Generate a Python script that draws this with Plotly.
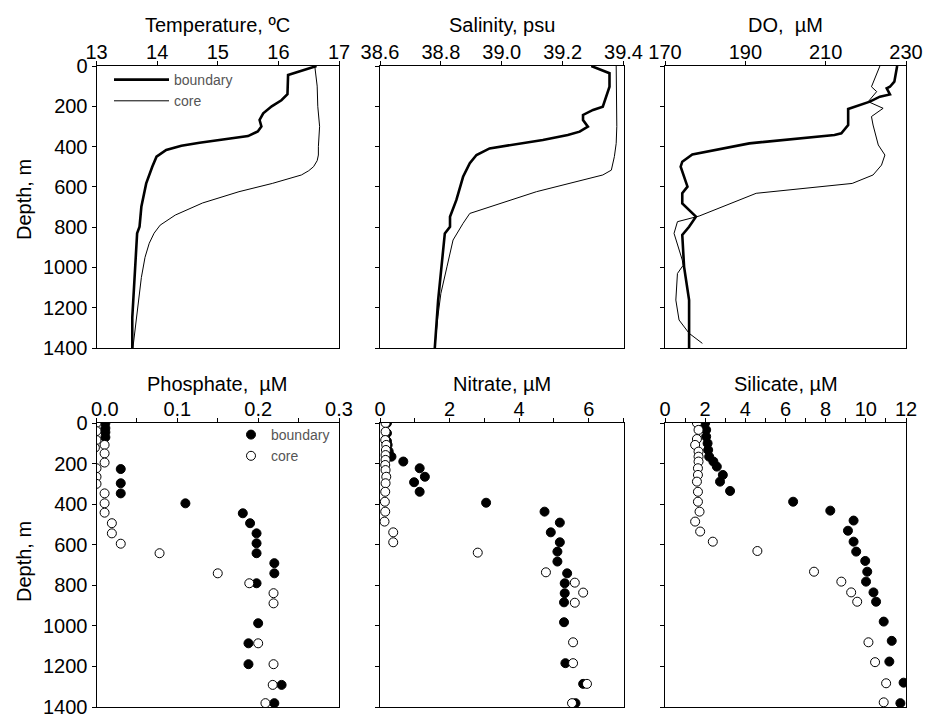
import plotly.graph_objects as go

# ---------------- CTD profiles (top row) ----------------
temp_b_depth = [0, 45, 140, 170, 200, 235, 268, 300, 325, 348, 381, 396, 417, 450, 500,
                583, 699, 798, 831, 997, 1162, 1250, 1400]
temp_b = [16.63, 16.16, 16.15, 16.05, 15.89, 15.75, 15.69, 15.72, 15.66, 15.5, 14.70, 14.40,
          14.15, 13.99, 13.92, 13.82, 13.74, 13.71, 13.67, 13.64, 13.61, 13.59, 13.59]
temp_c_depth = [0, 100, 200, 300, 400, 442, 470, 500, 520, 541, 583, 624, 680, 740, 790,
                830, 880, 950, 1050, 1150, 1250, 1330, 1400]
temp_c = [16.6, 16.64, 16.65, 16.68, 16.66, 16.66, 16.64, 16.58, 16.5, 16.38, 15.9, 15.35,
          14.75, 14.3, 14.05, 13.95, 13.87, 13.80, 13.74, 13.70, 13.66, 13.63, 13.6]

sal_b_depth = [0, 36, 103, 169, 202, 218, 243, 268, 301, 326, 343, 367, 396, 409, 442, 483,
               550, 665, 748, 798, 831, 997, 1162, 1400]
sal_b = [39.294, 39.354, 39.354, 39.338, 39.332, 39.30, 39.267, 39.267, 39.283, 39.256,
         39.217, 39.135, 39.004, 38.96, 38.917, 38.895, 38.873, 38.851, 38.83, 38.83,
         38.813, 38.802, 38.791, 38.78]
sal_c_depth = [0, 100, 200, 300, 384, 450, 517, 541, 624, 732, 781, 864, 997, 1129, 1245, 1400]
sal_c = [39.376, 39.377, 39.378, 39.378, 39.376, 39.37, 39.36, 39.332, 39.114, 38.895,
         38.873, 38.84, 38.82, 38.80, 38.79, 38.78]

do_b_depth = [0, 78, 103, 111, 141, 152, 177, 194, 213, 293, 334, 343, 384, 439, 475, 500,
              599, 632, 682, 748, 798, 839, 997, 1162, 1400]
do_b = [227.8, 227.1, 226.0, 225.2, 226.0, 223.5, 221.0, 218.5, 215.6, 215.6, 213.9, 212.2,
        191.0, 176.8, 174.3, 173.9, 175.6, 174.3, 174.3, 177.7, 176.0, 174.3, 174.75, 176.0, 176.0]
do_c_depth = [0, 103, 127, 177, 210, 251, 293, 392, 442, 492, 541, 583, 632, 745, 773, 831,
              963, 990, 1030, 1162, 1261, 1327, 1377]
do_c = [223.5, 221.4, 222.7, 220.6, 224.3, 221.4, 221.8, 223.1, 224.75, 223.9, 221.8, 216.6,
        192.7, 178.5, 173.1, 172.25, 174.3, 174.5, 173.1, 172.7, 173.5, 176.0, 179.3]

# ---------------- Nutrient samples (bottom row) ----------------
po4_b_depth = [0, 25, 45, 70, 227, 297, 347, 396, 445, 494, 544, 593, 642, 691, 741, 790,
               987, 1086, 1189, 1291, 1381]
po4_b = [0.011, 0.011, 0.011, 0.011, 0.030, 0.030, 0.030, 0.110, 0.181, 0.190, 0.198, 0.198,
         0.198, 0.220, 0.220, 0.198, 0.200, 0.188, 0.188, 0.229, 0.220]
po4_c_depth = [0, 40, 84, 108, 122, 150, 195, 223, 265, 300, 347, 396, 442, 494, 544, 595,
               642, 741, 790, 839, 889, 1086, 1189, 1291, 1381]
po4_c = [0.0, 0.0, 0.0, 0.010, -0.002, 0.010, 0.010, 0.0, 0.0, 0.0, 0.010, 0.010, 0.010,
         0.019, 0.019, 0.030, 0.078, 0.150, 0.189, 0.219, 0.219, 0.200, 0.219, 0.218, 0.209]

no3_b_depth = [0, 50, 90, 108, 140, 166, 190, 223, 265, 292, 339, 393, 437, 491, 539, 588,
               634, 683, 741, 790, 839, 884, 982, 1184, 1286, 1381]
no3_b = [0.2, 0.2, 0.2, 0.22, 0.25, 0.33, 0.67, 1.14, 1.29, 0.98, 1.14, 3.05, 4.73, 5.17,
         4.91, 5.17, 5.10, 5.10, 5.38, 5.31, 5.31, 5.29, 5.29, 5.33, 5.84, 5.62]
no3_c_depth = [0, 43, 84, 108, 133, 158, 182, 207, 232, 265, 297, 339, 388, 437, 486, 539,
               588, 639, 736, 787, 836, 886, 1081, 1184, 1286, 1381]
no3_c = [0.16, 0.16, 0.15, 0.18, 0.17, 0.16, 0.16, 0.15, 0.16, 0.18, 0.16, 0.15, 0.14, 0.15,
         0.13, 0.38, 0.38, 2.81, 4.77, 5.60, 5.84, 5.60, 5.55, 5.55, 5.95, 5.52]

si_b_depth = [0, 34, 67, 100, 133, 166, 190, 215, 256, 289, 335, 388, 432, 481, 531, 585,
              634, 680, 733, 782, 835, 881, 979, 1074, 1176, 1280, 1381]
si_b = [2.0, 2.05, 2.05, 2.12, 2.15, 2.2, 2.41, 2.58, 2.88, 2.74, 3.24, 6.38, 8.23, 9.39,
        9.11, 9.39, 9.52, 9.97, 10.07, 10.01, 10.38, 10.51, 10.89, 11.29, 11.17, 11.88, 11.72]
si_c_depth = [0, 34, 79, 108, 141, 166, 190, 223, 256, 289, 339, 388, 437, 486, 535, 585,
              631, 733, 782, 835, 881, 1081, 1179, 1283, 1377]
si_c = [1.59, 1.67, 1.59, 1.50, 1.67, 1.67, 1.67, 1.64, 1.64, 1.59, 1.64, 1.64, 1.72, 1.50,
        1.75, 2.38, 4.60, 7.42, 8.78, 9.27, 9.57, 10.13, 10.46, 11.01, 10.89]

titles = ["Temperature, ºC", "Salinity, psu", "DO,  µM",
          "Phosphate,  µM", "Nitrate, µM", "Silicate, µM"]

W, H = 926, 718
col_px = [(96.5, 339), (380, 623.5), (665, 906)]
row_px = [(66, 348), (423, 707)]
FONT = "Liberation Sans, Arial, Helvetica, sans-serif"
NB = "\u00a0"

fig = go.Figure()

line_sets = [(temp_b, temp_b_depth, temp_c, temp_c_depth),
             (sal_b, sal_b_depth, sal_c, sal_c_depth),
             (do_b, do_b_depth, do_c, do_c_depth)]
for i, (xb, yb, xc, yc) in enumerate(line_sets):
    ax = "" if i == 0 else str(i + 1)
    fig.add_trace(go.Scatter(x=xb, y=yb, mode="lines", name="boundary",
                             line=dict(color="black", width=2.6),
                             xaxis="x" + ax, yaxis="y" + ax,
                             showlegend=(i == 0), legend="legend"))
    fig.add_trace(go.Scatter(x=xc, y=yc, mode="lines", name="core",
                             line=dict(color="black", width=1),
                             xaxis="x" + ax, yaxis="y" + ax,
                             showlegend=(i == 0), legend="legend"))

dot_sets = [(po4_b, po4_b_depth, po4_c, po4_c_depth),
            (no3_b, no3_b_depth, no3_c, no3_c_depth),
            (si_b, si_b_depth, si_c, si_c_depth)]
for i, (xb, yb, xc, yc) in enumerate(dot_sets):
    ax = str(i + 4)
    fig.add_trace(go.Scatter(x=xb, y=yb, mode="markers", name="boundary",
                             marker=dict(symbol="circle", size=9, color="black",
                                         line=dict(color="black", width=1)),
                             xaxis="x" + ax, yaxis="y" + ax,
                             showlegend=(i == 0), legend="legend2"))
    fig.add_trace(go.Scatter(x=xc, y=yc, mode="markers", name="core",
                             marker=dict(symbol="circle", size=9, color="white",
                                         line=dict(color="black", width=1)),
                             xaxis="x" + ax, yaxis="y" + ax,
                             showlegend=(i == 0), legend="legend2"))

x_specs = [
    dict(range=[13, 17], tickvals=[13, 14, 15, 16, 17]),
    dict(range=[38.6, 39.4], tickvals=[38.6, 38.8, 39.0, 39.2, 39.4],
         ticktext=["38.6", "38.8", "39.0", "39.2", "39.4"]),
    dict(range=[170, 230], tickvals=[170, 190, 210, 230]),
    dict(range=[0, 0.3], tickvals=[0, 0.1, 0.2, 0.3],
         ticktext=[NB * 3 + "0.0", "0.1", "0.2", "0.3"],
         minor=dict(dtick=0.05, ticks="outside", ticklen=4, tickcolor="black")),
    dict(range=[0, 7], tickvals=[0, 2, 4, 6],
         minor=dict(dtick=1, ticks="outside", ticklen=4, tickcolor="black")),
    dict(range=[0, 12], tickvals=[0, 2, 4, 6, 8, 10, 12],
         minor=dict(dtick=1, ticks="outside", ticklen=4, tickcolor="black")),
]

common = dict(showline=True, linecolor="black", linewidth=1, mirror=True,
              ticks="outside", ticklen=4, tickwidth=1, tickcolor="black",
              showgrid=False, zeroline=False, automargin=False,
              tickfont=dict(family=FONT, size=20, color="black"))

layout = dict(width=W, height=H, margin=dict(l=0, r=0, t=0, b=0, autoexpand=False),
              paper_bgcolor="white", plot_bgcolor="white",
              font=dict(family=FONT, color="black"))

annotations = []
for k in range(6):
    r, c = divmod(k, 3)
    ax = "" if k == 0 else str(k + 1)
    x0, x1 = col_px[c]
    y0, y1 = row_px[r]
    xd = [x0 / W, x1 / W]
    yd = [1 - y1 / H, 1 - y0 / H]
    xa = dict(common, domain=xd, side="top", anchor="y" + ax,
              ticklabelstandoff=-6, **x_specs[k])
    ya = dict(common, domain=yd, anchor="x" + ax, range=[1400, 0],
              tickvals=list(range(0, 1401, 200)), showticklabels=(c == 0))
    layout["xaxis" + ax] = xa
    layout["yaxis" + ax] = ya
    annotations.append(dict(text=titles[k], x=(x0 + x1) / 2 / W,
                            y=1 - (25 if r == 0 else 384) / H,
                            xref="paper", yref="paper", showarrow=False,
                            xanchor="center", yanchor="middle",
                            font=dict(family=FONT, size=20, color="black")))

for yc in (200, 562):
    annotations.append(dict(text="Depth, m", x=24 / W, y=1 - yc / H, xref="paper",
                            yref="paper", showarrow=False, textangle=-90,
                            xanchor="center", yanchor="middle",
                            font=dict(family=FONT, size=20, color="black")))

layout["annotations"] = annotations
layout["legend"] = dict(x=109 / W, y=1 - 64 / H, xanchor="left", yanchor="top",
                        bgcolor="rgba(0,0,0,0)", itemwidth=55, tracegroupgap=0,
                        font=dict(family=FONT, size=14, color="#555555"))
layout["legend2"] = dict(x=231 / W, y=1 - 419 / H, xanchor="left", yanchor="top",
                         bgcolor="rgba(0,0,0,0)", tracegroupgap=0,
                         font=dict(family=FONT, size=14, color="#555555"))

fig.update_layout(**layout)
fig.write_html("out.html")
